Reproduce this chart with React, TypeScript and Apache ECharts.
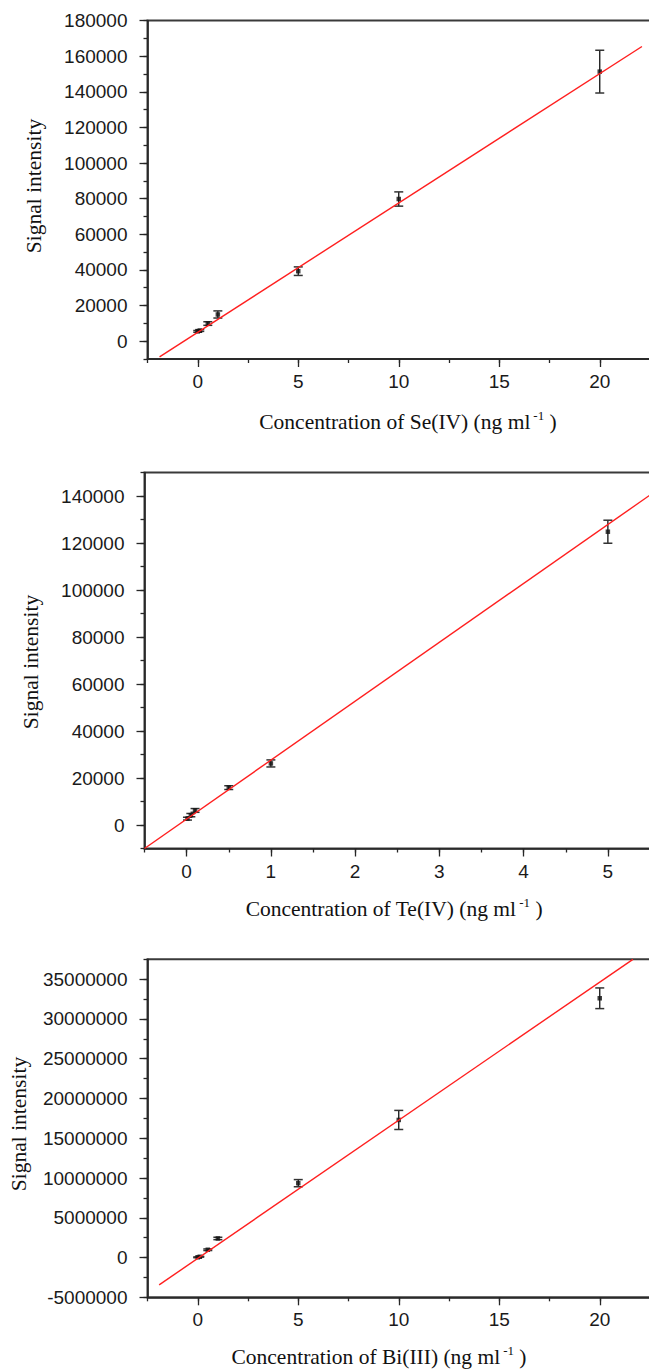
import React, { useEffect, useRef } from "react";
import * as echarts from "echarts";

// ---- Se(IV) ----
const seX = [0, 0.1, 0.5, 1, 5, 10, 20];
const seY = [5500, 6000, 9900, 15000, 39300, 79800, 151300];
const seErr = [500, 500, 1000, 2000, 2400, 4000, 12000];
const seFitX = [-1.9, 22.1];
const seFitY = [-8800, 165400];
const seXTicks = [0, 5, 10, 15, 20];
const seYTicks = [0, 20000, 40000, 60000, 80000, 100000, 120000, 140000, 160000, 180000];

// ---- Te(IV) ----
const teX = [0.01, 0.05, 0.1, 0.5, 1, 5];
const teY = [2700, 4200, 6200, 15900, 26200, 124800];
const teErr = [600, 700, 800, 800, 1500, 4900];
const teFitX = [-0.5, 5.5];
const teFitY = [-10000, 140400];
const teXTicks = [0, 1, 2, 3, 4, 5];
const teYTicks = [0, 20000, 40000, 60000, 80000, 100000, 120000, 140000];

// ---- Bi(III) ----
const biX = [0, 0.1, 0.5, 1, 5, 10, 20];
const biY = [30000, 100000, 980000, 2400000, 9350000, 17300000, 32600000];
const biErr = [50000, 50000, 100000, 150000, 450000, 1200000, 1300000];
const biFitX = [-1.92, 21.65];
const biFitY = [-3440000, 37500000];
const biXTicks = [0, 5, 10, 15, 20];
const biYTicks = [-5000000, 0, 5000000, 10000000, 15000000, 20000000, 25000000, 30000000, 35000000];

const panels = [
  {
    analyte: "Se(IV)",
    grid: { left: 147.5, top: 20.5, width: 502.5, height: 338.5 },
    xr: { min: -2.5, max: 22.5, minor: 2.5, ticks: seXTicks },
    yr: { min: -10000, max: 180000, minor: 10000, ticks: seYTicks },
    xs: seX, ys: seY, err: seErr, fitX: seFitX, fitY: seFitY,
    xTitle: [408, 422], yTitle: [34, 186],
  },
  {
    analyte: "Te(IV)",
    grid: { left: 144.5, top: 472.5, width: 505.5, height: 376 },
    xr: { min: -0.5, max: 5.5, minor: 0.5, ticks: teXTicks },
    yr: { min: -10000, max: 150000, minor: 10000, ticks: teYTicks },
    xs: teX, ys: teY, err: teErr, fitX: teFitX, fitY: teFitY,
    xTitle: [394, 909], yTitle: [31, 662],
  },
  {
    analyte: "Bi(III)",
    grid: { left: 147.5, top: 959.3, width: 502.5, height: 338 },
    xr: { min: -2.5, max: 22.5, minor: 2.5, ticks: biXTicks },
    yr: { min: -5000000, max: 37500000, minor: 2500000, ticks: biYTicks },
    xs: biX, ys: biY, err: biErr, fitX: biFitX, fitY: biFitY,
    xTitle: [379, 1357], yTitle: [19, 1124],
  },
];

const AXIS_COLOR = "#262626";
const LABEL_FONT = "Liberation Sans";
const SERIF = "Liberation Serif";

function buildOption() {
  const grid: any[] = [];
  const xAxis: any[] = [];
  const yAxis: any[] = [];
  const series: any[] = [];
  const graphic: any[] = [];

  panels.forEach((p, i) => {
    grid.push({
      ...p.grid,
      show: true,
      borderColor: "#3a3a3a",
      borderWidth: 2,
      backgroundColor: "transparent",
    });
    const common = (r: any) => ({
      type: "value",
      gridIndex: i,
      min: r.min,
      max: r.max,
      interval: r.minor,
      splitLine: { show: false },
    });
    // minor tick axes
    xAxis.push({
      ...common(p.xr),
      position: "bottom",
      axisLine: { show: false, onZero: false },
      axisTick: { show: true, length: 4, lineStyle: { color: AXIS_COLOR, width: 1.3 } },
      axisLabel: { show: false },
    });
    yAxis.push({
      ...common(p.yr),
      position: "left",
      axisLine: { show: false, onZero: false },
      axisTick: { show: true, length: 4, lineStyle: { color: AXIS_COLOR, width: 1.3 } },
      axisLabel: { show: false },
    });
    // major axes with labels
    xAxis.push({
      ...common(p.xr),
      position: "bottom",
      axisLine: { show: true, onZero: false, lineStyle: { color: AXIS_COLOR, width: 1.6 } },
      axisTick: { show: true, length: 8, customValues: p.xr.ticks, lineStyle: { color: AXIS_COLOR, width: 1.3 } },
      axisLabel: {
        customValues: p.xr.ticks,
        formatter: (v: number) => String(v),
        fontFamily: LABEL_FONT,
        fontSize: 19,
        color: "#1a1a1a",
        margin: 13,
      },
    });
    yAxis.push({
      ...common(p.yr),
      position: "left",
      axisLine: { show: true, onZero: false, lineStyle: { color: AXIS_COLOR, width: 1.6 } },
      axisTick: { show: true, length: 8, customValues: p.yr.ticks, lineStyle: { color: AXIS_COLOR, width: 1.3 } },
      axisLabel: {
        customValues: p.yr.ticks,
        formatter: (v: number) => String(v),
        fontFamily: LABEL_FONT,
        fontSize: 19,
        color: "#1a1a1a",
        margin: 20,
      },
    });

    const xi = 2 * i + 1;
    const yi = 2 * i + 1;

    series.push({
      type: "custom",
      xAxisIndex: xi,
      yAxisIndex: yi,
      data: p.xs.map((x, j) => [x, p.ys[j] - p.err[j], p.ys[j] + p.err[j]]),
      encode: { x: 0, y: [1, 2] },
      z: 3,
      renderItem: (params: any, api: any) => {
        const x = api.value(0);
        const lo = api.coord([x, api.value(1)]);
        const hi = api.coord([x, api.value(2)]);
        const w = 4.5;
        return {
          type: "group",
          children: [
            { type: "line", shape: { x1: lo[0], y1: lo[1], x2: hi[0], y2: hi[1] }, style: { stroke: "#111", lineWidth: 1.3 } },
            { type: "line", shape: { x1: lo[0] - w, y1: lo[1], x2: lo[0] + w, y2: lo[1] }, style: { stroke: "#333", lineWidth: 1.5 } },
            { type: "line", shape: { x1: hi[0] - w, y1: hi[1], x2: hi[0] + w, y2: hi[1] }, style: { stroke: "#333", lineWidth: 1.5 } },
          ],
        };
      },
    });
    series.push({
      type: "scatter",
      xAxisIndex: xi,
      yAxisIndex: yi,
      data: p.xs.map((x, j) => [x, p.ys[j]]),
      symbol: "rect",
      symbolSize: 4.5,
      itemStyle: { color: "#111" },
      z: 4,
    });
    series.push({
      type: "line",
      xAxisIndex: xi,
      yAxisIndex: yi,
      data: p.fitX.map((x, j) => [x, p.fitY[j]]),
      showSymbol: false,
      symbol: "none",
      clip: true,
      lineStyle: { color: "#ff1f1f", width: 1.4 },
      z: 5,
    });

    graphic.push({
      type: "text",
      x: p.xTitle[0],
      y: p.xTitle[1],
      style: {
        text: `{a|Concentration of ${p.analyte} (ng ml}{s|-1}{a| )}`,
        align: "center",
        verticalAlign: "middle",
        rich: {
          a: { fontFamily: SERIF, fontSize: 21.5, fill: "#111", lineHeight: 26 },
          s: { fontFamily: SERIF, fontSize: 13, fill: "#111", verticalAlign: "top", padding: [0, 0, 0, 3] },
        },
      },
    });
    graphic.push({
      type: "text",
      x: p.yTitle[0],
      y: p.yTitle[1],
      rotation: Math.PI / 2,
      style: {
        text: "Signal intensity",
        align: "center",
        verticalAlign: "middle",
        fontFamily: SERIF,
        fontSize: 21.5,
        fill: "#111",
      },
    });
  });

  return { animation: false, backgroundColor: "#fff", grid, xAxis, yAxis, series, graphic };
}

export default function App() {
  const ref = useRef<HTMLDivElement>(null);
  useEffect(() => {
    if (!ref.current) return;
    const chart = echarts.init(ref.current, undefined, { renderer: "svg" });
    chart.setOption(buildOption() as any);
    return () => chart.dispose();
  }, []);
  return (
    <div
      style={{
        position: "fixed",
        left: 0,
        top: 0,
        width: 649,
        height: 1369,
        overflow: "hidden",
        background: "#fff",
      }}
    >
      <div ref={ref} style={{ width: 700, height: 1369 }} />
    </div>
  );
}
